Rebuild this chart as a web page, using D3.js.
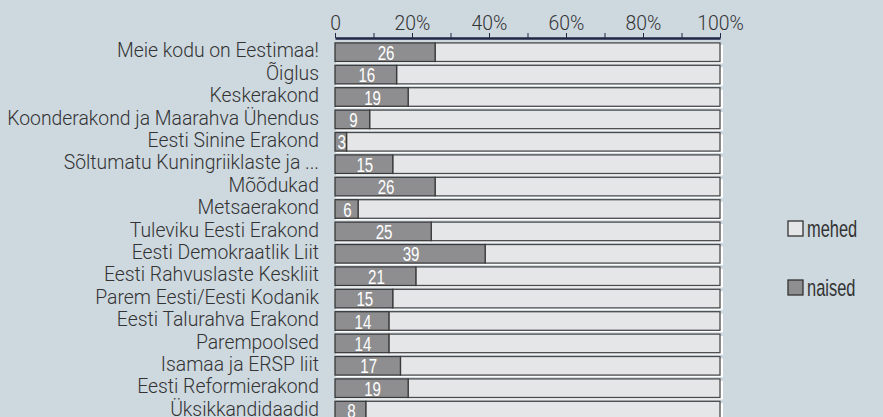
<!DOCTYPE html>
<html>
<head>
<meta charset="utf-8">
<script src="https://cdn.jsdelivr.net/npm/d3@7/dist/d3.min.js"></script>
<style>
  html, body { margin: 0; padding: 0; background: #cdd8df; }
  svg { display: block; }
</style>
</head>
<body>
<svg id="chart" width="883" height="417"></svg>
<script>
const categories = [
  "Meie kodu on Eestimaa!",
  "Õiglus",
  "Keskerakond",
  "Koonderakond ja Maarahva Ühendus",
  "Eesti Sinine Erakond",
  "Sõltumatu Kuningriiklaste ja ...",
  "Mõõdukad",
  "Metsaerakond",
  "Tuleviku Eesti Erakond",
  "Eesti Demokraatlik Liit",
  "Eesti Rahvuslaste Keskliit",
  "Parem Eesti/Eesti Kodanik",
  "Eesti Talurahva Erakond",
  "Parempoolsed",
  "Isamaa ja ERSP liit",
  "Eesti Reformierakond",
  "Üksikkandidaadid"
];
const naised = [26, 16, 19, 9, 3, 15, 26, 6, 25, 39, 21, 15, 14, 14, 17, 19, 8];
const mehed  = [74, 84, 81, 91, 97, 85, 74, 94, 75, 61, 79, 85, 86, 86, 83, 81, 92];
const tickValues = [0, 10, 20, 30, 40, 50, 60, 70, 80, 90, 100];
const tickLabels = ["0", "", "20%", "", "40%", "", "60%", "", "80%", "", "100%"];
const seriesNames = ["mehed", "naised"];

const colors = { mehed: "#e5e6e8", naised: "#8e8e90" };
const labelFont = "Roboto, 'Liberation Sans', Arial, sans-serif";
const narrowFont = "'Liberation Sans', Arial, sans-serif";

const svg = d3.select("#chart");

// fit label font size so the longest label spans the measured width
const probe = svg.append("text").attr("font-family", labelFont).attr("font-weight", 300)
  .attr("font-size", 100).text("Koonderakond ja Maarahva Ühendus");
const probeW = probe.node().getComputedTextLength();
probe.remove();
const labelSize = Math.min(20, 100 * 312 / probeW);

const x = d3.scaleLinear().domain([0, 100]).range([335, 720]);
const step = 22.4;
const y = d3.scaleBand().domain(categories)
  .range([41, 41 + categories.length * step])
  .paddingInner(0.17).paddingOuter(0.085);

// axis
const axis = d3.axisTop(x).tickValues(tickValues)
  .tickFormat((d, i) => tickLabels[i]).tickSize(5).tickSizeOuter(0).tickPadding(3);
const gAxis = svg.append("g").attr("transform", "translate(0,38)").call(axis);
gAxis.select(".domain").attr("stroke", "#1e2744").attr("stroke-width", 2.5);
gAxis.selectAll(".tick line").attr("stroke", "#1e2744").attr("stroke-width", 1);
gAxis.selectAll(".tick text").attr("font-family", labelFont).attr("font-weight", 300)
  .attr("font-size", labelSize).attr("fill", "#333");

const rows = svg.append("g").selectAll("g.row").data(categories).join("g").attr("class", "row");

// white shadow
rows.append("rect")
  .attr("x", x(0) + 1).attr("y", d => y(d) + 2)
  .attr("width", x(100) - x(0) + 2).attr("height", y.bandwidth())
  .attr("fill", "#ffffff");

// mehed (rest of bar)
rows.append("rect")
  .attr("x", (d, i) => x(naised[i]))
  .attr("y", d => y(d))
  .attr("width", (d, i) => x(naised[i] + mehed[i]) - x(naised[i]))
  .attr("height", y.bandwidth())
  .attr("fill", colors.mehed).attr("stroke", "#4a4a4a").attr("stroke-width", 1.3);

// naised
rows.append("rect")
  .attr("x", x(0))
  .attr("y", d => y(d))
  .attr("width", (d, i) => x(naised[i]) - x(0))
  .attr("height", y.bandwidth())
  .attr("fill", colors.naised).attr("stroke", "#3a3a3a").attr("stroke-width", 1.3);

// values (condensed look via horizontal scale)
rows.append("text")
  .attr("transform", (d, i) =>
    `translate(${(x(0) + x(naised[i])) / 2 + 1},${y(d) + y.bandwidth() / 2}) scale(0.72,1)`)
  .attr("dy", "0.36em")
  .attr("text-anchor", "middle")
  .attr("font-family", narrowFont).attr("font-size", 21)
  .attr("fill", "#ffffff")
  .text((d, i) => naised[i]);

// category labels
rows.append("text")
  .attr("x", 319)
  .attr("y", d => y(d) + y.bandwidth() / 2)
  .attr("dy", "0.27em")
  .attr("text-anchor", "end")
  .attr("font-family", labelFont).attr("font-weight", 300)
  .attr("font-size", labelSize).attr("fill", "#333")
  .text(d => d);

// legend
const legendY = [221, 280];
const legend = svg.append("g").selectAll("g").data(seriesNames).join("g")
  .attr("transform", (d, i) => `translate(788,${legendY[i]})`);
legend.append("rect").attr("width", 15).attr("height", 15)
  .attr("fill", d => colors[d]).attr("stroke", "#333").attr("stroke-width", 1.3);
legend.append("text")
  .attr("transform", "translate(19,7.5) scale(0.7,1)")
  .attr("dy", "0.36em")
  .attr("font-family", narrowFont).attr("font-size", 23.5).attr("fill", "#333")
  .text(d => d);
</script>
</body>
</html>
